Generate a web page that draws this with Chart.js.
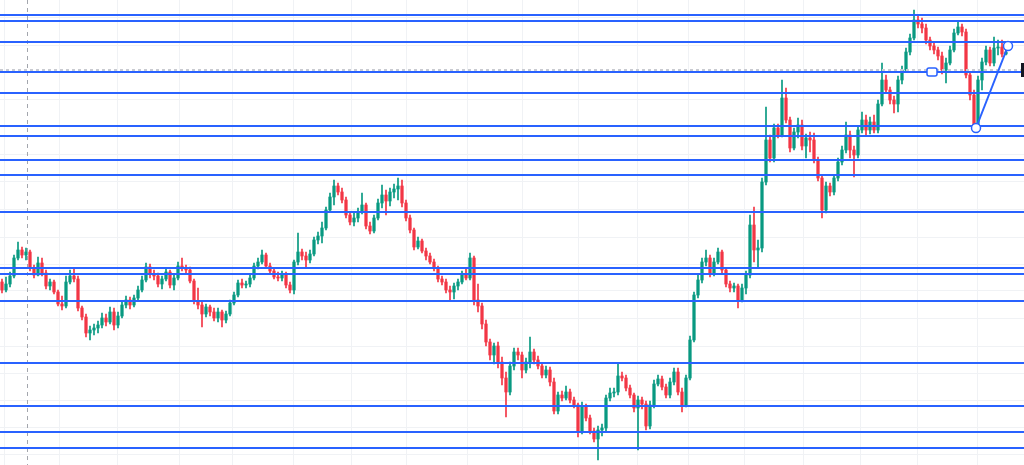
<!DOCTYPE html>
<html>
<head>
<meta charset="utf-8">
<script src="https://cdn.jsdelivr.net/npm/chart.js@4.4.1/dist/chart.umd.min.js"></script>
<style>
  html, body { margin: 0; padding: 0; background: #ffffff; }
  #wrap { width: 1024px; height: 465px; }
</style>
</head>
<body>
<div id="wrap"><canvas id="myChart"></canvas></div>
<script>
// candles (price, one per bar)
const opens = [218,210,216,224,242,250,245,248,232,225,237,227,214,218,208,196,194,218,224,221,
  192,183,167,170,172,175,182,178,188,175,184,195,200,195,202,210,220,233,226,224,
  216,221,228,215,222,234,232,230,219,199,195,186,193,188,182,188,180,186,197,205,
  217,215,216,222,234,238,245,234,229,223,222,226,215,210,238,248,244,240,246,260,
  264,272,290,303,314,308,300,285,278,282,288,295,274,269,282,297,305,299,308,311,
  314,297,282,270,253,259,249,244,238,232,221,218,210,208,214,218,226,222,242,200,
  194,176,158,145,154,138,122,108,134,148,145,130,138,148,140,134,125,130,118,89,
  105,102,108,100,95,68,94,82,69,61,70,72,102,107,108,124,122,112,105,92,
  100,96,74,95,116,121,113,105,118,128,108,95,122,160,205,220,238,242,226,238,
  248,230,216,212,214,200,212,225,275,250,252,318,360,342,372,365,402,380,352,368,
  375,354,362,360,340,322,290,314,308,322,338,350,365,350,345,370,380,370,378,370,
  396,420,410,400,396,420,430,448,462,480,476,472,460,454,450,444,430,437,450,467,
  473,468,425,405,375,420,438,450,437,452,453,446];
const highs = [221,223,228,245,258,253,252,250,235,243,242,230,221,220,210,204,224,230,232,224,
  194,186,174,176,179,187,186,193,192,188,198,204,203,205,214,224,237,236,230,227,
  224,232,230,225,238,242,235,233,221,212,198,196,195,192,192,190,189,200,208,220,
  221,219,225,237,242,250,247,237,232,228,229,228,218,240,267,251,248,250,263,268,
  278,293,307,320,317,312,303,288,287,292,307,297,278,285,301,315,310,312,316,322,
  320,300,285,272,263,261,252,247,241,234,224,221,214,217,221,229,232,247,244,216,
  197,180,161,157,158,143,128,138,152,152,148,142,163,151,144,137,134,133,122,108,
  109,114,111,103,97,98,96,85,72,74,76,105,112,112,137,128,125,115,107,104,
  103,99,99,120,125,124,116,122,132,132,112,125,164,208,226,242,250,245,242,252,
  250,232,219,217,216,216,229,285,293,260,322,393,365,376,376,420,412,383,372,382,
  380,366,368,367,343,325,318,317,325,342,354,378,369,354,374,388,385,383,385,400,
  437,425,413,404,424,434,452,466,490,485,482,476,463,458,453,448,442,454,471,478,
  476,471,428,410,424,442,454,453,463,460,460,452];
const lows = [207,208,213,222,240,242,240,229,222,224,224,211,210,206,194,190,192,216,218,189,
  180,163,160,165,167,172,174,176,170,172,182,192,191,193,200,208,218,222,220,213,
  211,219,212,210,220,229,227,217,196,191,173,183,184,179,178,173,177,184,195,203,
  212,212,213,220,231,236,232,226,221,219,219,212,207,206,235,240,233,237,244,256,
  257,270,288,295,305,297,282,275,274,278,286,271,266,267,280,292,285,294,302,300,
  293,279,267,250,251,247,240,236,229,218,215,207,200,201,210,216,220,220,195,188,
  171,154,140,136,132,115,83,105,130,140,122,127,132,136,131,122,122,114,86,86,
  99,100,97,92,63,66,79,66,58,40,64,69,99,103,105,119,109,102,88,50,
  91,70,71,92,114,110,102,102,115,105,88,93,120,158,202,217,234,223,224,236,
  227,213,208,208,192,198,206,222,238,232,248,315,338,338,362,363,377,348,350,362,
  350,342,348,337,319,282,287,304,305,319,335,347,342,323,342,367,365,366,367,367,
  394,407,396,387,388,416,428,445,460,472,467,456,450,446,440,426,417,435,448,465,
  464,422,400,372,373,410,435,434,434,445,443,445];
const closes = [210,216,224,242,250,245,248,232,225,237,227,214,218,208,196,194,218,224,221,192,
  183,167,170,172,175,182,178,188,175,184,195,200,195,202,210,220,233,226,224,216,
  221,228,215,222,234,232,230,219,199,195,186,193,188,182,188,180,186,197,205,217,
  215,216,222,234,238,245,234,229,223,222,226,215,210,238,248,244,240,246,260,264,
  272,290,303,314,308,300,285,278,282,288,295,274,269,282,297,305,299,308,311,314,
  297,282,270,253,259,249,244,238,232,221,218,210,208,214,218,226,222,242,200,194,
  176,158,145,154,138,122,108,134,148,145,130,138,148,140,134,125,130,118,89,105,
  102,108,100,95,68,94,82,69,61,70,72,102,107,108,124,122,112,105,92,100,
  96,74,95,116,121,113,105,118,128,108,95,122,160,205,220,238,242,226,238,248,
  230,216,212,214,200,212,225,275,250,252,318,360,342,372,365,402,380,352,368,375,
  354,362,360,340,322,290,314,308,322,338,350,365,350,345,370,380,370,378,370,396,
  420,410,400,396,420,430,448,462,480,476,472,460,454,450,444,430,437,450,467,473,
  468,425,405,375,420,438,450,437,452,453,446,448];

// drawn levels and tools
const levels = [485, 479, 458, 428, 407, 374, 364, 340, 325, 288, 232, 226, 199, 137, 94, 68, 52];
const lastPrice = 430;
const cursorBar = 6.25;
const trendBars = [243.5, 251.5];
const trendPrices = [372, 454];
const handleBar = 232.5;

// background grid
const gridPrices = [482.5, 455, 428, 401, 373, 346, 319, 291, 263, 236, 209, 182, 154, 127, 100, 73, 46];
const gridBars = [0.5, 14.25, 28.75, 44.25, 57.5, 72.75, 87.25, 101, 116.25, 130, 144, 158.75,
  171.5, 185.5, 200.25, 214.5, 228.75, 243.75];

const upColor = '#089981';
const downColor = '#f23645';
const blue = '#2962ff';

const colors = closes.map((c, i) => c >= opens[i] ? upColor : downColor);
const wicks = closes.map((c, i) => ({ x: i, y: [lows[i], highs[i]] }));
const bodies = closes.map((c, i) => ({ x: i, y: [opens[i], c] }));

// lineas, herramientas y etiqueta
const drawingsPlugin = {
  id: 'drawings',
  afterDatasetsDraw(chart) {
    const { ctx, chartArea, scales } = chart;
    const xs = scales.x, ys = scales.y;
    ctx.save();

    // current price dashed line
    ctx.strokeStyle = '#c9cbd1';
    ctx.lineWidth = 2;
    ctx.setLineDash([3, 3]);
    let y = Math.round(ys.getPixelForValue(lastPrice));
    ctx.beginPath();
    ctx.moveTo(chartArea.left, y);
    ctx.lineTo(chartArea.right, y);
    ctx.stroke();

    // crosshair vertical
    ctx.strokeStyle = '#a3a6ad';
    ctx.lineWidth = 1;
    ctx.setLineDash([4, 4]);
    const cx = Math.round(xs.getPixelForValue(cursorBar)) + 0.5;
    ctx.beginPath();
    ctx.moveTo(cx, chartArea.top);
    ctx.lineTo(cx, chartArea.bottom);
    ctx.stroke();
    ctx.setLineDash([]);

    // horizontal levels
    ctx.strokeStyle = blue;
    ctx.lineWidth = 2;
    levels.forEach(p => {
      const ly = Math.round(ys.getPixelForValue(p));
      ctx.beginPath();
      ctx.moveTo(chartArea.left, ly);
      ctx.lineTo(chartArea.right, ly);
      ctx.stroke();
    });

    // trend line with handles
    const x1 = xs.getPixelForValue(trendBars[0]), y1 = ys.getPixelForValue(trendPrices[0]);
    const x2 = xs.getPixelForValue(trendBars[1]), y2 = ys.getPixelForValue(trendPrices[1]);
    ctx.lineWidth = 2;
    ctx.beginPath();
    ctx.moveTo(x1, y1);
    ctx.lineTo(x2, y2);
    ctx.stroke();
    ctx.fillStyle = '#ffffff';
    ctx.lineWidth = 1.5;
    [[x1, y1], [x2, y2]].forEach(([px, py]) => {
      ctx.beginPath();
      ctx.arc(px, py, 4.5, 0, Math.PI * 2);
      ctx.fill();
      ctx.stroke();
    });

    // selected level handle
    const hx = xs.getPixelForValue(handleBar);
    const hy = ys.getPixelForValue(levels[3]);
    ctx.beginPath();
    ctx.roundRect(hx - 5, hy - 4, 10, 8, 2);
    ctx.fill();
    ctx.stroke();

    // price tag cut at the edge
    ctx.fillStyle = '#131722';
    ctx.fillRect(chartArea.right - 3, y - 7, 10, 14);

    ctx.restore();
  }
};

const ctx = document.getElementById('myChart').getContext('2d');
const myChart = new Chart(ctx, {
  type: 'bar',
  data: {
    datasets: [{
      label: 'wicks',
      data: wicks,
      backgroundColor: colors,
      barThickness: 1,
      grouped: false,
      order: 2
    }, {
      label: 'bodies',
      data: bodies,
      backgroundColor: colors,
      barThickness: 2.6,
      minBarLength: 1,
      grouped: false,
      order: 1
    }]
  },
  options: {
    responsive: true,
    maintainAspectRatio: false,
    animation: false,
    layout: { padding: 0 },
    plugins: {
      legend: { display: false },
      tooltip: { enabled: false }
    },
    scales: {
      x: {
        type: 'linear',
        min: -0.5,
        max: 255.5,
        offset: false,
        afterBuildTicks: s => { s.ticks = gridBars.map(v => ({ value: v })); },
        ticks: { display: false },
        grid: { color: '#f0f2f5', drawTicks: false, offset: false },
        border: { display: false }
      },
      y: {
        min: 35,
        max: 500,
        afterBuildTicks: s => { s.ticks = gridPrices.map(v => ({ value: v })); },
        ticks: { display: false },
        grid: { color: '#f0f2f5', drawTicks: false },
        border: { display: false }
      }
    }
  },
  plugins: [drawingsPlugin]
});
</script>
</body>
</html>
